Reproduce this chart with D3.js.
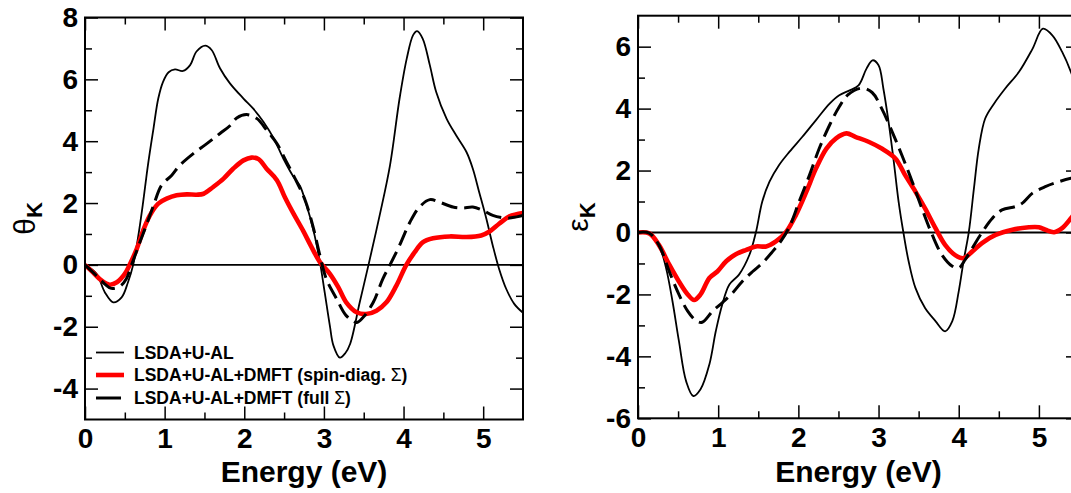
<!DOCTYPE html>
<html>
<head>
<meta charset="utf-8">
<script src="https://cdn.jsdelivr.net/npm/d3@7/dist/d3.min.js"></script>
<style>
  body { margin: 0; background: #fff; }
  svg text { font-family: "Liberation Sans", Arial, Helvetica, sans-serif; }
</style>
</head>
<body>
<svg id="chart" width="1071" height="493"></svg>
<script>
// [energy (eV), value] pairs

// Kerr rotation theta_K
const thetaLsdaU = [
  [0, 0], [0.145, -0.29], [0.25, -0.89], [0.354, -1.21], [0.46, -1.05], [0.54, -0.56], [0.605, 0],
  [0.67, 0.95], [0.73, 2.03], [0.79, 3.22], [0.86, 4.41], [0.92, 5.38], [0.98, 5.92], [1.05, 6.23],
  [1.13, 6.32], [1.23, 6.27], [1.32, 6.46], [1.40, 6.9], [1.51, 7.09], [1.59, 6.95], [1.695, 6.36],
  [1.82, 5.87], [1.99, 5.38], [2.11, 5.06], [2.24, 4.63], [2.37, 4.09], [2.49, 3.44], [2.62, 2.84],
  [2.70, 2.55], [2.78, 1.95], [2.87, 1.1], [2.95, 0.09], [3.01, -0.89], [3.075, -1.97], [3.12, -2.61],
  [3.20, -3.0], [3.27, -2.85], [3.33, -2.55], [3.45, -1.21], [3.56, 0], [3.70, 1.6], [3.83, 3.22],
  [3.95, 5.38], [4.04, 6.67], [4.12, 7.43], [4.17, 7.56], [4.24, 7.32], [4.33, 6.46], [4.41, 5.59],
  [4.54, 4.73], [4.66, 4.19], [4.79, 3.65], [4.87, 3.11], [4.95, 2.35], [5.04, 1.49], [5.12, 0.63],
  [5.20, -0.13], [5.29, -0.78], [5.39, -1.26], [5.5, -1.55]
];
const thetaDmftDiag = [
  [0, 0], [0.10, -0.24], [0.21, -0.51], [0.31, -0.64], [0.40, -0.56], [0.50, -0.29], [0.56, 0],
  [0.65, 0.52], [0.73, 1.11], [0.815, 1.6], [0.92, 1.98], [1.025, 2.14], [1.15, 2.25], [1.28, 2.28],
  [1.40, 2.27], [1.49, 2.30], [1.61, 2.52], [1.74, 2.79], [1.86, 3.11], [1.99, 3.38], [2.09, 3.47],
  [2.18, 3.42], [2.28, 3.11], [2.41, 2.74], [2.51, 2.19], [2.62, 1.65], [2.74, 1.1], [2.84, 0.6],
  [2.95, 0.09], [3.075, -0.29], [3.18, -0.72], [3.28, -1.21], [3.41, -1.53], [3.53, -1.59],
  [3.66, -1.48], [3.785, -1.21], [3.91, -0.67], [4.035, 0], [4.14, 0.41], [4.24, 0.73], [4.37, 0.86],
  [4.58, 0.92], [4.79, 0.90], [4.975, 0.95], [5.08, 1.08], [5.20, 1.33], [5.33, 1.57], [5.5, 1.68]
];
const thetaDmftFull = [
  [0, 0], [0.145, -0.35], [0.25, -0.62], [0.33, -0.76], [0.44, -0.69], [0.52, -0.45], [0.585, 0],
  [0.69, 0.74], [0.77, 1.28], [0.86, 1.92], [0.96, 2.57], [1.09, 2.9], [1.19, 3.22], [1.36, 3.6],
  [1.53, 3.92], [1.695, 4.25], [1.82, 4.5], [1.905, 4.75], [2.03, 4.86], [2.16, 4.73], [2.28, 4.36],
  [2.41, 3.92], [2.53, 3.33], [2.66, 2.68], [2.77, 2.05], [2.87, 1.17], [2.95, 0.3], [3.03, -0.45],
  [3.16, -1.10], [3.28, -1.64], [3.41, -1.86], [3.49, -1.70], [3.62, -1.21], [3.74, -0.45], [3.83, 0],
  [3.95, 0.63], [4.08, 1.38], [4.20, 1.87], [4.33, 2.11], [4.45, 2.03], [4.62, 1.87], [4.745, 1.84],
  [4.87, 1.87], [5.0, 1.76], [5.12, 1.60], [5.29, 1.51], [5.37, 1.53], [5.5, 1.60]
];

// Kerr ellipticity epsilon_K
const epsLsdaU = [
  [0, 0], [0.14, -0.02], [0.26, -0.40], [0.35, -1.15], [0.43, -2.22], [0.51, -3.5], [0.60, -4.8],
  [0.69, -5.28], [0.78, -5.06], [0.89, -4.26], [0.97, -3.19], [1.05, -2.33], [1.14, -1.68],
  [1.26, -1.36], [1.39, -0.72], [1.47, 0], [1.55, 1.0], [1.64, 1.64], [1.76, 2.18], [1.89, 2.61],
  [2.05, 3.09], [2.22, 3.63], [2.39, 4.16], [2.51, 4.43], [2.64, 4.59], [2.75, 4.75], [2.85, 5.29],
  [2.925, 5.56], [3.0, 5.40], [3.06, 4.65], [3.125, 3.57], [3.19, 2.29], [3.25, 1.0], [3.31, 0],
  [3.375, -0.93], [3.46, -1.79], [3.58, -2.44], [3.71, -2.86], [3.83, -3.19], [3.92, -2.86],
  [4.0, -1.90], [4.06, -0.93], [4.125, 0], [4.19, 1.43], [4.25, 2.71], [4.33, 3.68], [4.44, 4.16],
  [4.58, 4.65], [4.75, 5.18], [4.92, 5.93], [5.05, 6.58], [5.17, 6.36], [5.29, 5.83], [5.40, 5.18],
  [5.5, 4.4]
];
const epsDmftDiag = [
  [0, 0], [0.14, -0.03], [0.26, -0.40], [0.39, -1.04], [0.51, -1.58], [0.62, -2.0], [0.70, -2.18],
  [0.78, -2.0], [0.89, -1.47], [0.99, -1.26], [1.10, -0.93], [1.22, -0.70], [1.35, -0.56],
  [1.47, -0.45], [1.60, -0.45], [1.72, -0.29], [1.85, 0.03], [1.97, 0.57], [2.10, 1.32], [2.22, 2.07],
  [2.35, 2.71], [2.47, 3.04], [2.60, 3.2], [2.71, 3.09], [2.875, 2.93], [3.04, 2.71], [3.21, 2.39],
  [3.33, 1.86], [3.46, 1.32], [3.58, 0.78], [3.71, 0.14], [3.83, -0.40], [3.96, -0.74], [4.06, -0.83],
  [4.17, -0.61], [4.29, -0.34], [4.46, -0.08], [4.67, 0.09], [4.875, 0.17], [5.0, 0.17], [5.08, 0.09],
  [5.19, 0.01], [5.29, 0.14], [5.40, 0.46], [5.5, 0.8]
];
const epsDmftFull = [
  [0, 0], [0.14, -0.02], [0.26, -0.40], [0.39, -1.26], [0.51, -2.0], [0.62, -2.54], [0.72, -2.84],
  [0.80, -2.9], [0.93, -2.54], [1.05, -2.27], [1.18, -1.95], [1.30, -1.58], [1.43, -1.26],
  [1.55, -0.99], [1.68, -0.61], [1.78, -0.29], [1.89, 0.19], [2.01, 1.0], [2.14, 1.86], [2.26, 2.71],
  [2.39, 3.47], [2.51, 4.06], [2.62, 4.45], [2.79, 4.66], [2.92, 4.52], [3.04, 4.0], [3.17, 3.25],
  [3.29, 2.5], [3.42, 1.64], [3.54, 0.78], [3.67, -0.08], [3.79, -0.72], [3.92, -1.09], [4.0, -1.15],
  [4.08, -0.88], [4.17, -0.50], [4.29, 0], [4.42, 0.46], [4.54, 0.73], [4.71, 0.84], [4.79, 0.94],
  [4.92, 1.27], [5.08, 1.48], [5.25, 1.64], [5.40, 1.75], [5.5, 1.8]
];

const energyTicks = [0, 1, 2, 3, 4, 5];
const energyMinorTicks = [0.5, 1.5, 2.5, 3.5, 4.5];
const thetaTicks = [-4, -2, 0, 2, 4, 6, 8];
const thetaMinorTicks = [-3, -1, 1, 3, 5, 7];
const epsTicks = [-6, -4, -2, 0, 2, 4, 6];
const epsMinorTicks = [-5, -3, -1, 1, 3, 5];
const legendLabels = ["LSDA+U-AL", "LSDA+U-AL+DMFT (spin-diag. Σ)", "LSDA+U-AL+DMFT (full Σ)"];

const seriesStyle = [
  { stroke: "#000", width: 1.8, dash: null },
  { stroke: "#ff0000", width: 4.6, dash: null },
  { stroke: "#000", width: 3, dash: "16,7" },
];

const svg = d3.select("#chart");
svg.append("rect").attr("width", 1071).attr("height", 493).attr("fill", "#fff");

function drawPanel(cfg) {
  const x = d3.scaleLinear().domain([0, 5.5]).range([cfg.left, cfg.right]);
  const y = d3.scaleLinear().domain(cfg.yDomain).range([cfg.bottom, cfg.top]);
  const w = cfg.right - cfg.left, h = cfg.bottom - cfg.top;

  const g = svg.append("g").attr("class", "panel-" + cfg.id);

  g.append("clipPath").attr("id", "clip-" + cfg.id)
    .append("rect").attr("x", cfg.left).attr("y", cfg.top).attr("width", w).attr("height", h);

  // axes: ticks point inward on all four sides
  const major = 13, minor = 7;
  const addAxis = (axis, transform, labels) => {
    const a = g.append("g").attr("transform", transform).call(axis);
    a.select(".domain").remove();
    a.selectAll(".tick line").attr("stroke", "#000").attr("stroke-width", 1.5);
    if (!labels) a.selectAll(".tick text").remove();
    return a;
  };

  const bottom = addAxis(d3.axisBottom(x).tickValues(energyTicks).tickSizeInner(-major).tickSizeOuter(0)
    .tickPadding(9).tickFormat(d3.format("d")), `translate(0,${cfg.bottom})`, true);
  addAxis(d3.axisBottom(x).tickValues(energyMinorTicks).tickSize(-minor), `translate(0,${cfg.bottom})`, false);
  addAxis(d3.axisTop(x).tickValues(energyTicks).tickSize(-major), `translate(0,${cfg.top})`, false);
  addAxis(d3.axisTop(x).tickValues(energyMinorTicks).tickSize(-minor), `translate(0,${cfg.top})`, false);

  const left = addAxis(d3.axisLeft(y).tickValues(cfg.yTicks).tickSizeInner(-major).tickSizeOuter(0)
    .tickPadding(7).tickFormat(d3.format("d")), `translate(${cfg.left},0)`, true);
  addAxis(d3.axisLeft(y).tickValues(cfg.yMinor).tickSize(-minor), `translate(${cfg.left},0)`, false);
  addAxis(d3.axisRight(y).tickValues(cfg.yTicks).tickSize(-major), `translate(${cfg.right},0)`, false);
  addAxis(d3.axisRight(y).tickValues(cfg.yMinor).tickSize(-minor), `translate(${cfg.right},0)`, false);

  [bottom, left].forEach(a => a.selectAll(".tick text")
    .attr("fill", "#000")
    .style("font-size", "28px")
    .style("font-weight", "bold"));
  left.selectAll(".tick text").text(d => d < 0 ? "-" + Math.abs(d) : d);

  // zero line
  g.append("line")
    .attr("x1", cfg.left).attr("x2", cfg.right)
    .attr("y1", y(0)).attr("y2", y(0))
    .attr("stroke", "#000").attr("stroke-width", 1.8);

  const line = d3.line()
    .x(d => x(d[0]))
    .y(d => y(d[1]))
    .curve(d3.curveCatmullRom.alpha(0.5));

  g.append("g").attr("clip-path", `url(#clip-${cfg.id})`)
    .selectAll("path")
    .data(cfg.series)
    .join("path")
    .attr("d", line)
    .attr("fill", "none")
    .attr("stroke", (d, i) => seriesStyle[i].stroke)
    .attr("stroke-width", (d, i) => seriesStyle[i].width)
    .attr("stroke-dasharray", (d, i) => seriesStyle[i].dash)
    .attr("stroke-linejoin", "round");

  // frame
  g.append("rect")
    .attr("x", cfg.left).attr("y", cfg.top).attr("width", w).attr("height", h)
    .attr("fill", "none").attr("stroke", "#000").attr("stroke-width", 2);

  // axis titles
  g.append("text")
    .attr("x", (cfg.left + cfg.right) / 2)
    .attr("y", 482)
    .attr("text-anchor", "middle")
    .style("font-size", "30px")
    .style("font-weight", "bold")
    .text("Energy (eV)");

  const yt = g.append("text")
    .attr("transform", `translate(${cfg.left - 50},${(cfg.top + cfg.bottom) / 2}) rotate(-90)`)
    .attr("text-anchor", "middle");
  yt.append("tspan").style("font-size", "30px").text(cfg.symbol);
  yt.append("tspan").attr("dy", 7).style("font-size", "22px").style("font-weight", "bold").text("K");

  return { x, y, g };
}

const thetaPanel = drawPanel({
  id: "theta", left: 85, right: 523, top: 17.5, bottom: 419.5,
  yDomain: [-5, 8], yTicks: thetaTicks, yMinor: thetaMinorTicks,
  series: [thetaLsdaU, thetaDmftDiag, thetaDmftFull], symbol: "θ",
});

drawPanel({
  id: "eps", left: 638, right: 1079, top: 15.7, bottom: 418.3,
  yDomain: [-6, 7], yTicks: epsTicks, yMinor: epsMinorTicks,
  series: [epsLsdaU, epsDmftDiag, epsDmftFull], symbol: "ε",
});

// legend (left panel only)
const legendRows = [352.5, 375, 398];
const legend = thetaPanel.g.append("g").attr("class", "legend");
legendLabels.forEach((label, i) => {
  const st = seriesStyle[i];
  legend.append("line")
    .attr("x1", 96).attr("x2", i === 2 ? 121 : 124)
    .attr("y1", legendRows[i]).attr("y2", legendRows[i])
    .attr("stroke", st.stroke).attr("stroke-width", st.width);
  const t = legend.append("text")
    .attr("x", 134).attr("y", legendRows[i])
    .attr("dy", "0.36em")
    .style("font-size", "17.5px")
    .style("font-weight", "bold");
  label.split(/(Σ)/).forEach(part => {
    if (!part) return;
    t.append("tspan").style("font-weight", part === "Σ" ? "normal" : "bold").text(part);
  });
});
</script>
</body>
</html>
